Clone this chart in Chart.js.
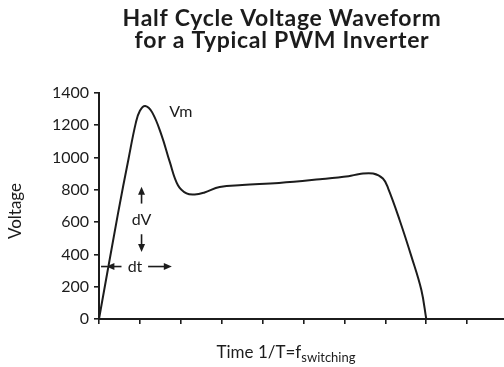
<!DOCTYPE html>
<html>
<head>
<meta charset="utf-8">
<script src="https://cdn.jsdelivr.net/npm/chart.js@4.4.1/dist/chart.umd.min.js"></script>
<style>
  html, body { margin: 0; padding: 0; background: #fff; }
  #wrap { width: 504px; height: 367px; }
</style>
</head>
<body>
<div id="wrap"><canvas id="waveChart" width="504" height="367"></canvas></div>
<script>
// Half-cycle voltage trace (time in switching periods, volts)
const timeValues    = [0, 0.465, 0.72, 0.9, 1.0, 1.13, 1.3, 1.53, 1.73, 1.93, 2.14, 2.34, 2.58, 2.95, 3.5, 4.4, 5.4, 6.1, 6.37, 6.7, 6.94, 7.07, 7.35, 7.64, 7.88, 8.0];
const voltageValues = [0, 654, 990, 1215, 1290, 1320, 1280, 1138, 973, 829, 778, 771, 784, 818, 830, 843, 866, 885, 898, 901, 870, 808, 612, 385, 179, 0];

const voltageTicks = [0, 200, 400, 600, 800, 1000, 1200, 1400];
const timeTicks = [0, 1, 2, 3, 4, 5, 6, 7, 8, 9];

const titleLines = ['Half Cycle Voltage Waveform', 'for a Typical PWM Inverter'];

const FONT = 'Lato, "DejaVu Sans", sans-serif';
const INK = '#1c1c1c';

// titles, subscripted x label and the dV / dt / Vm callouts
const labelsPlugin = {
  id: 'labels',
  afterDraw(chart) {
    const ctx = chart.ctx;
    const xs = chart.scales.x, ys = chart.scales.y;
    ctx.save();
    ctx.fillStyle = INK;
    ctx.strokeStyle = INK;

    // heading
    ctx.textAlign = 'center';
    ctx.textBaseline = 'middle';
    ctx.font = 'bold 23px ' + FONT;
    ctx.letterSpacing = '0.7px';
    ctx.fillText(titleLines[0], 282, 19);
    ctx.fillText(titleLines[1], 282, 41);
    ctx.letterSpacing = '0px';

    // y title
    ctx.save();
    ctx.translate(16, 211);
    ctx.rotate(-Math.PI / 2);
    ctx.font = '17px ' + FONT;
    ctx.fillText('Voltage', 0, 0);
    ctx.restore();

    // x title with subscript
    ctx.textAlign = 'left';
    ctx.textBaseline = 'alphabetic';
    const main = 'Time 1/T=f', sub = 'switching';
    ctx.font = '17px ' + FONT;
    const wMain = ctx.measureText(main).width;
    ctx.font = '13px ' + FONT;
    const wSub = ctx.measureText(sub).width;
    const x0 = 286 - (wMain + wSub) / 2;
    ctx.font = '17px ' + FONT;
    ctx.fillText(main, x0, 358);
    ctx.font = '13px ' + FONT;
    ctx.fillText(sub, x0 + wMain, 362);

    // Vm label near the peak
    ctx.textAlign = 'left';
    ctx.textBaseline = 'middle';
    ctx.font = '16px ' + FONT;
    ctx.fillText('Vm', xs.getPixelForValue(1.72), ys.getPixelForValue(1285));

    const arrow = (x1, y1, x2, y2) => {
      const a = Math.atan2(y2 - y1, x2 - x1);
      ctx.lineWidth = 1.6;
      ctx.beginPath();
      ctx.moveTo(x1, y1);
      ctx.lineTo(x2 - 5 * Math.cos(a), y2 - 5 * Math.sin(a));
      ctx.stroke();
      ctx.beginPath();
      ctx.moveTo(x2, y2);
      ctx.lineTo(x2 - 8 * Math.cos(a) + 3.5 * Math.sin(a), y2 - 8 * Math.sin(a) - 3.5 * Math.cos(a));
      ctx.lineTo(x2 - 8 * Math.cos(a) - 3.5 * Math.sin(a), y2 - 8 * Math.sin(a) + 3.5 * Math.cos(a));
      ctx.closePath();
      ctx.fill();
    };

    // dV callout
    const ax = xs.getPixelForValue(1.04);
    arrow(ax, ys.getPixelForValue(715), ax, ys.getPixelForValue(820));
    arrow(ax, ys.getPixelForValue(525), ax, ys.getPixelForValue(415));
    ctx.textAlign = 'center';
    ctx.font = '16px ' + FONT;
    ctx.fillText('dV', ax, ys.getPixelForValue(612));

    // dt callout
    const ty = ys.getPixelForValue(325);
    ctx.lineWidth = 1.6;
    ctx.beginPath();
    ctx.moveTo(xs.getPixelForValue(0.05), ty);
    ctx.lineTo(xs.getPixelForValue(0.2), ty);
    ctx.stroke();
    arrow(xs.getPixelForValue(0.55), ty, xs.getPixelForValue(0.18), ty);
    ctx.fillText('dt', xs.getPixelForValue(0.88), ty);
    arrow(xs.getPixelForValue(1.2), ty, xs.getPixelForValue(1.78), ty);

    ctx.restore();
  }
};

new Chart(document.getElementById('waveChart'), {
  type: 'line',
  data: {
    datasets: [{
      data: timeValues.map((t, i) => ({ x: t, y: voltageValues[i] })),
      borderColor: INK,
      borderWidth: 2,
      pointRadius: 0,
      tension: 0.4,
      fill: false
    }]
  },
  plugins: [labelsPlugin],
  options: {
    responsive: false,
    animation: false,
    layout: { padding: { top: 93, right: 0, left: 0, bottom: 0 } },
    plugins: {
      legend: { display: false },
      tooltip: { enabled: false }
    },
    scales: {
      x: {
        type: 'linear',
        min: 0,
        max: 9.9,
        afterBuildTicks: s => { s.ticks = timeTicks.map(v => ({ value: v })); },
        afterFit: s => { s.height = 48; },
        ticks: { display: false },
        grid: { drawOnChartArea: false, drawTicks: true, tickLength: 5, color: INK, lineWidth: 1.6 },
        border: { display: true, color: INK, width: 2 }
      },
      y: {
        min: 0,
        max: 1400,
        afterBuildTicks: s => { s.ticks = voltageTicks.map(v => ({ value: v })); },
        afterFit: s => { s.width = 99; },
        ticks: {
          color: INK,
          font: { family: FONT, size: 16 },
          padding: 5,
          callback: v => String(v)
        },
        grid: { drawOnChartArea: false, drawTicks: true, tickLength: 5, color: INK, lineWidth: 1.6 },
        border: { display: true, color: INK, width: 2 }
      }
    }
  }
});
</script>
</body>
</html>
